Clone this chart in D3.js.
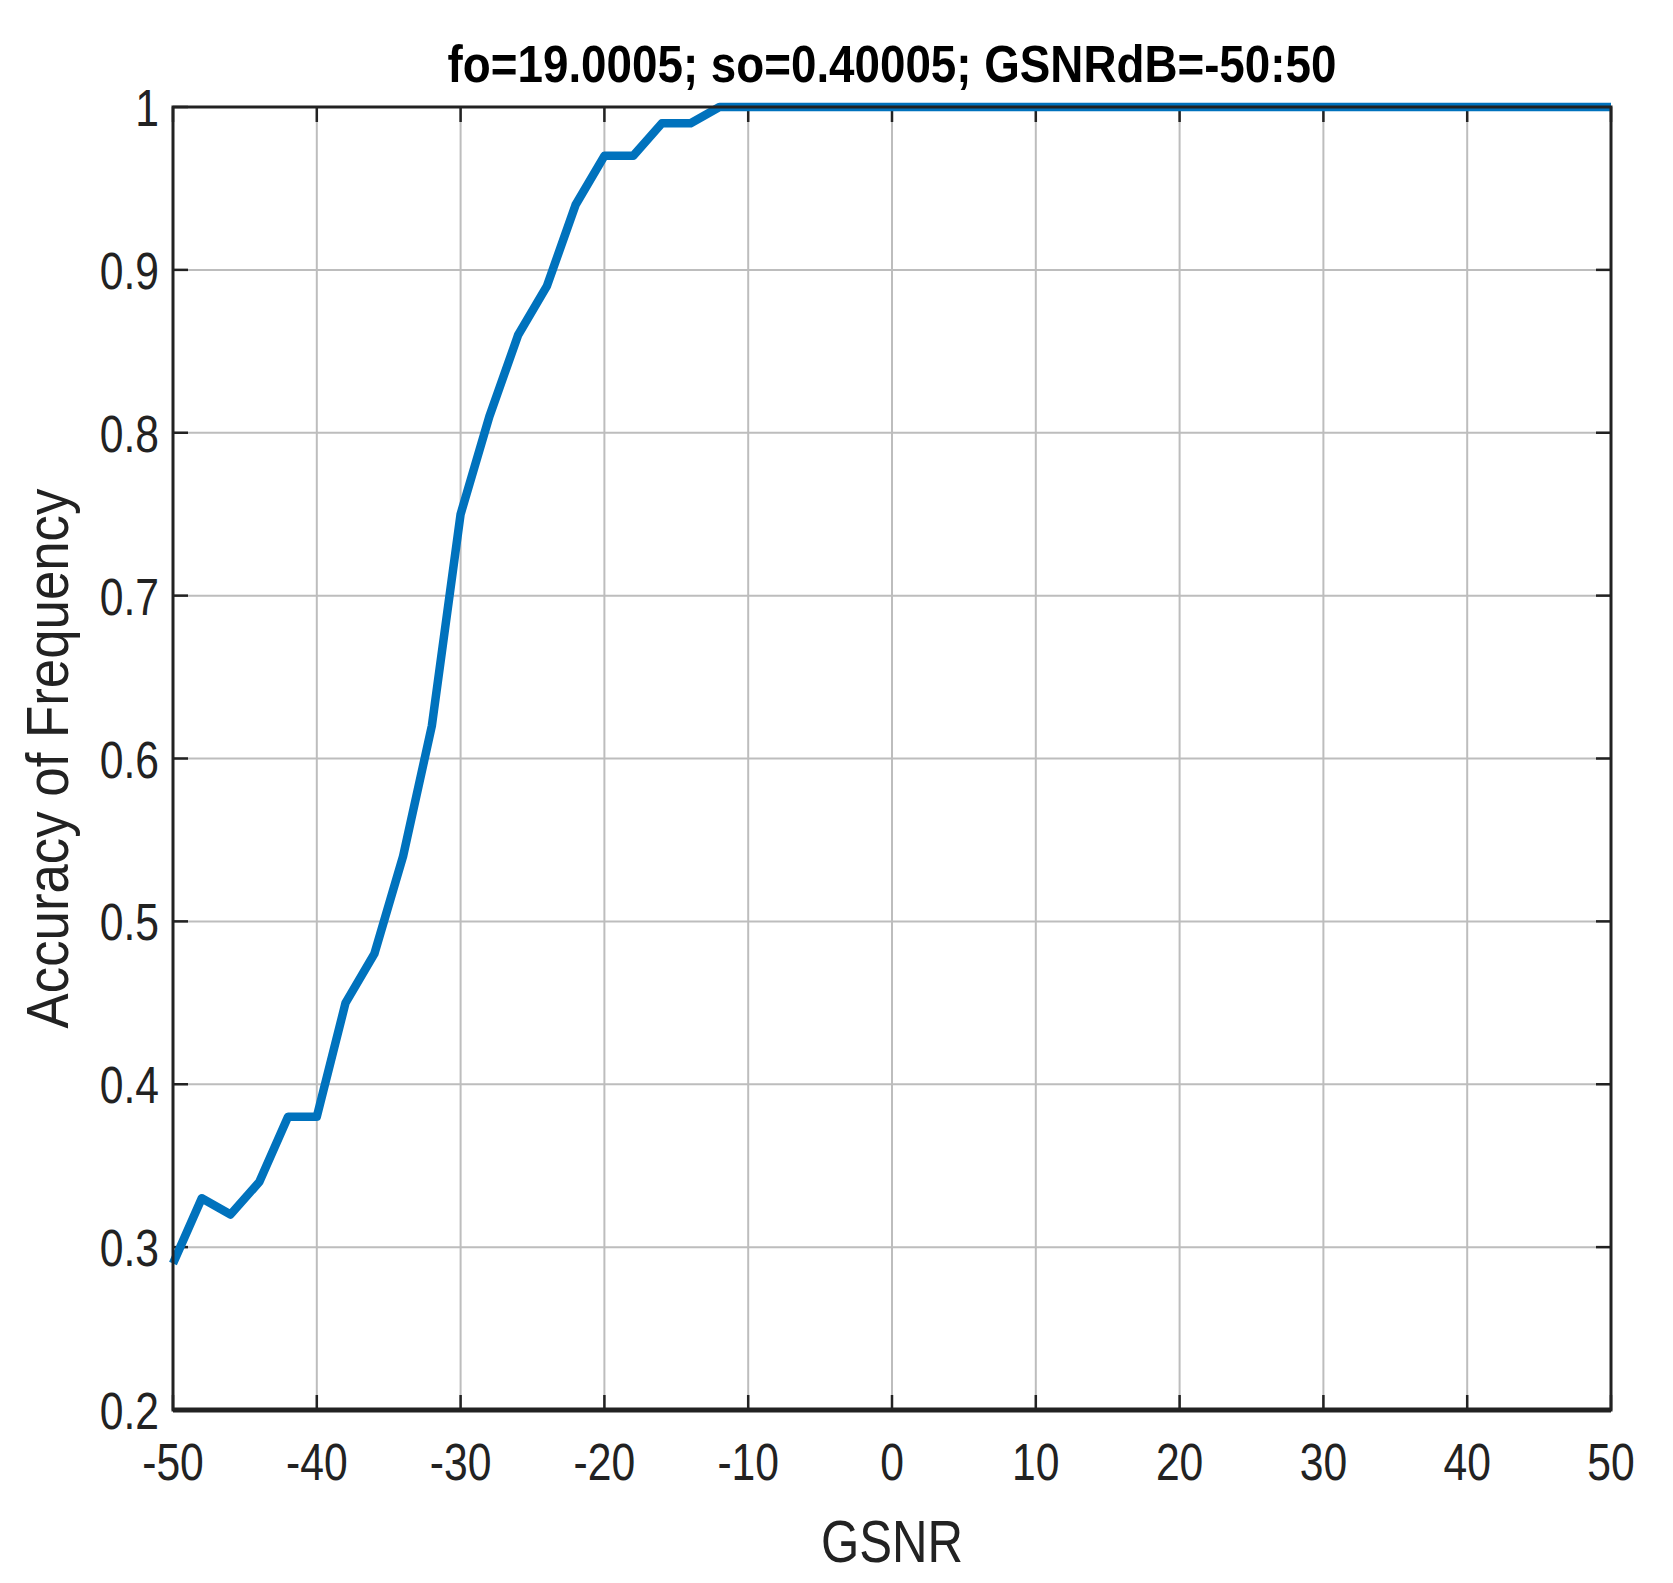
<!DOCTYPE html>
<html><head><meta charset="utf-8">
<script src="https://cdn.jsdelivr.net/npm/d3@7"></script>
<style>body{margin:0;background:#fff}</style>
</head><body>
<script>
const gsnr = [-50,-48,-46,-44,-42,-40,-38,-36,-34,-32,-30,-28,-26,-24,-22,-20,-18,-16,-14,-12,-10,0,10,20,30,40,50];
const accuracy = [0.29,0.33,0.32,0.34,0.38,0.38,0.45,0.48,0.54,0.62,0.75,0.81,0.86,0.89,0.94,0.97,0.97,0.99,0.99,1,1,1,1,1,1,1,1];
const xTicks = [-50,-40,-30,-20,-10,0,10,20,30,40,50];
const yTicks = [0.2,0.3,0.4,0.5,0.6,0.7,0.8,0.9,1];

const width = 1673, height = 1583;
const m = {top: 107, right: 62, bottom: 173, left: 173};
const w = width - m.left - m.right, h = height - m.top - m.bottom;
const font = "'Liberation Sans',Arial,sans-serif";
const sx = 0.82; // condensed look

const svg = d3.select('body').append('svg').attr('width', width).attr('height', height);
const g = svg.append('g').attr('transform', `translate(${m.left},${m.top})`);
const x = d3.scaleLinear().domain([-50, 50]).range([0, w]);
const y = d3.scaleLinear().domain([0.2, 1]).range([h, 0]);

// grid
g.selectAll('.gx').data(xTicks).join('line').attr('x1', x).attr('x2', x).attr('y1', 0).attr('y2', h)
  .attr('stroke', '#bdbdbd').attr('stroke-width', 2);
g.selectAll('.gy').data(yTicks).join('line').attr('y1', y).attr('y2', y).attr('x1', 0).attr('x2', w)
  .attr('stroke', '#bdbdbd').attr('stroke-width', 2);

// ticks inward
const tk = 15;
g.selectAll('.tb').data(xTicks).join('line').attr('x1', x).attr('x2', x).attr('y1', h).attr('y2', h - tk).attr('stroke', '#222').attr('stroke-width', 2.5);
g.selectAll('.tt').data(xTicks).join('line').attr('x1', x).attr('x2', x).attr('y1', 0).attr('y2', tk).attr('stroke', '#222').attr('stroke-width', 2.5);
g.selectAll('.tl').data(yTicks).join('line').attr('y1', y).attr('y2', y).attr('x1', 0).attr('x2', tk).attr('stroke', '#222').attr('stroke-width', 2.5);
g.selectAll('.tr').data(yTicks).join('line').attr('y1', y).attr('y2', y).attr('x1', w).attr('x2', w - tk).attr('stroke', '#222').attr('stroke-width', 2.5);

// line
g.append('path').datum(gsnr.map((d, i) => [d, accuracy[i]]))
  .attr('d', d3.line().x(d => x(d[0])).y(d => y(d[1])))
  .attr('fill', 'none').attr('stroke', '#0072BD').attr('stroke-width', 8.5).attr('stroke-linejoin', 'round');

// box
g.append('rect').attr('width', w).attr('height', h).attr('fill', 'none').attr('stroke', '#222').attr('stroke-width', 3);
g.append('line').attr('x1', 0).attr('x2', w).attr('y1', h).attr('y2', h).attr('stroke', '#222').attr('stroke-width', 5);

// labels (horizontally condensed)
g.selectAll('.xl').data(xTicks).join('text')
  .attr('transform', d => `translate(${x(d)},${h + 70}) scale(${sx},1)`)
  .attr('text-anchor', 'middle').attr('font-family', font).attr('font-size', 52).attr('fill', '#222').text(d => d);
g.selectAll('.yl').data(yTicks).join('text')
  .attr('transform', d => `translate(-14,${y(d) + 19}) scale(${sx},1)`)
  .attr('text-anchor', 'end').attr('font-family', font).attr('font-size', 52).attr('fill', '#222').text(d => d);

svg.append('text').attr('transform', `translate(${m.left + w / 2},1562) scale(${sx},1)`).attr('text-anchor', 'middle')
  .attr('font-family', font).attr('font-size', 60).attr('fill', '#222').text('GSNR');
svg.append('text').attr('transform', `translate(68,${m.top + h / 2}) rotate(-90) scale(0.88,1)`).attr('text-anchor', 'middle')
  .attr('font-family', font).attr('font-size', 60).attr('fill', '#222').text('Accuracy of Frequency');
svg.append('text').attr('transform', `translate(${m.left + w / 2},82) scale(0.88,1)`).attr('text-anchor', 'middle')
  .attr('font-family', font).attr('font-size', 52).attr('font-weight', 'bold').attr('fill', '#000')
  .text('fo=19.0005; so=0.40005; GSNRdB=-50:50');
</script>
</body></html>
